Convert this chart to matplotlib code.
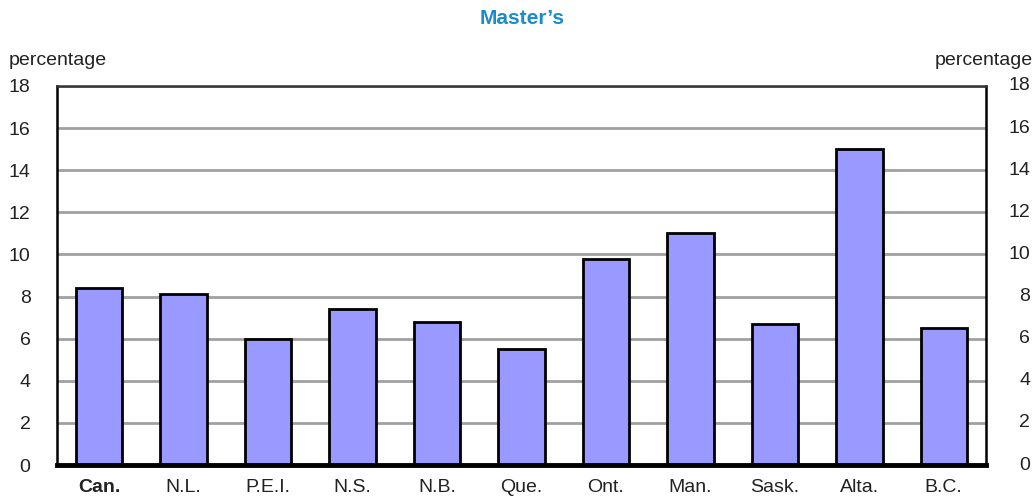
import matplotlib
matplotlib.use("Agg")
import matplotlib.pyplot as plt
from matplotlib import rcParams

rcParams['font.family'] = ['Liberation Sans', 'DejaVu Sans']
rcParams['font.size'] = 14

provinces = ["Can.", "N.L.", "P.E.I.", "N.S.", "N.B.", "Que.", "Ont.", "Man.", "Sask.", "Alta.", "B.C."]
masters = [8.4, 8.1, 6.0, 7.4, 6.8, 5.5, 9.8, 11.0, 6.7, 15.0, 6.5]
yticks = [0, 2, 4, 6, 8, 10, 12, 14, 16, 18]

fig = plt.figure(figsize=(10.36, 4.99), dpi=100)
ax = fig.add_axes([0.055, 0.0681, 0.8967, 0.7596])

x = range(len(provinces))
ax.bar(x, masters, width=0.55, color="#9999ff", edgecolor="black", linewidth=2, zorder=3)

ax.set_xlim(-0.5, len(provinces) - 0.5)
ax.set_ylim(0, 18)
ax.set_yticks(yticks)
ax.yaxis.grid(True, color="#a0a0a0", linewidth=2, zorder=0)
ax.set_axisbelow(True)

for side in ["left", "right", "top"]:
    ax.spines[side].set_linewidth(1.8)
ax.spines["top"].set_color("#333333")
ax.spines["bottom"].set_linewidth(3.5)
ax.spines["bottom"].set_zorder(4)

ax.set_xticks(list(x))
ax.set_xticklabels(provinces)
ax.get_xticklabels()[0].set_fontweight("bold")
ax.tick_params(axis="x", length=0, pad=10, labelsize=14, colors="#222222")
ax.tick_params(axis="y", length=0, labelsize=14, colors="#222222", pad=19)

# right-hand scale, right aligned near the figure edge
ytrans = ax.get_yaxis_transform()
for v in yticks:
    ax.text(1.0475, v, str(v), transform=ytrans, ha="right", va="center",
            fontsize=14, color="#222222", clip_on=False)

fig.text(0.504, 0.962, "Master\u2019s", ha="center", va="center", fontsize=15,
         fontweight="bold", color="#1a8ccc")
fig.text(0.008, 0.878, "percentage", ha="left", va="center", fontsize=14, color="#222222")
fig.text(0.997, 0.878, "percentage", ha="right", va="center", fontsize=14, color="#222222")

fig.savefig("out.png", dpi=100)
